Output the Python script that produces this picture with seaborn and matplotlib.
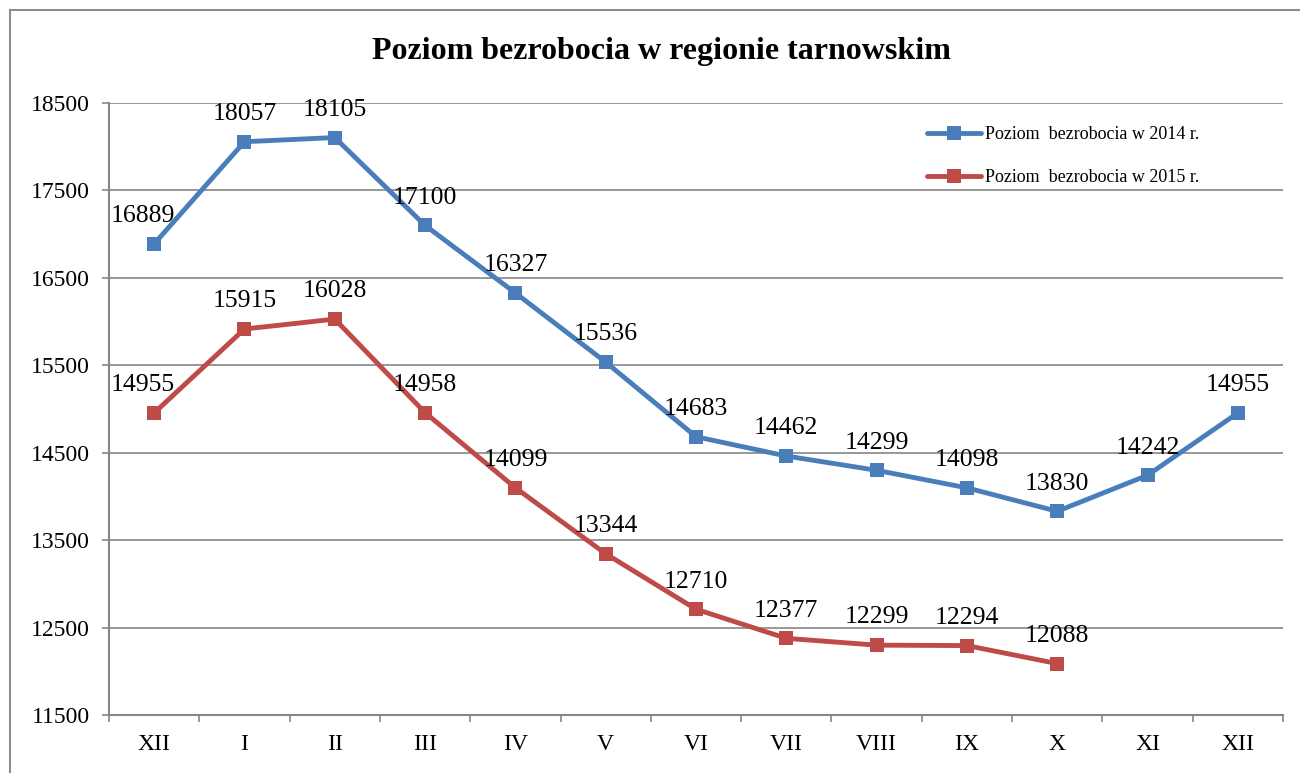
import matplotlib
matplotlib.use("Agg")
import matplotlib.pyplot as plt
import matplotlib.patches as mpatches
import seaborn as sns
import pandas as pd
import numpy as np

months = ["XII", "I", "II", "III", "IV", "V", "VI", "VII", "VIII", "IX", "X", "XI", "XII"]
vals_2014 = [16889, 18057, 18105, 17100, 16327, 15536, 14683, 14462, 14299, 14098, 13830, 14242, 14955]
vals_2015 = [14955, 15915, 16028, 14958, 14099, 13344, 12710, 12377, 12299, 12294, 12088]
series_names = ["Poziom  bezrobocia w 2014 r.", "Poziom  bezrobocia w 2015 r."]
title = "Poziom bezrobocia w regionie tarnowskim"
yticks = [11500, 12500, 13500, 14500, 15500, 16500, 17500, 18500]

colors = ["#4A7EBB", "#BE4B48"]

rows = []
for i, v in enumerate(vals_2014):
    rows.append({"pos": i, "val": v, "series": series_names[0]})
for i, v in enumerate(vals_2015):
    rows.append({"pos": i, "val": v, "series": series_names[1]})
df = pd.DataFrame(rows)

sns.set_theme(style="white")
plt.rcParams["font.family"] = ["Liberation Serif", "DejaVu Serif"]
plt.rcParams["text.color"] = "black"
plt.rcParams["xtick.labelcolor"] = "black"
plt.rcParams["ytick.labelcolor"] = "black"

fig = plt.figure(figsize=(13, 7.73), dpi=100)
ax = fig.add_axes([109/1300, 1 - 715/773, (1283-109)/1300, (715-103)/773])

sns.lineplot(data=df, x="pos", y="val", hue="series", palette=colors,
             marker="s", markersize=10, markeredgewidth=0, linewidth=3.5,
             ax=ax, legend=True)

# data labels
for series, vals in zip(series_names, [vals_2014, vals_2015]):
    for i, v in enumerate(vals):
        dx = -8 if i == 0 else 0
        ax.annotate(str(v), (i, v), xytext=(dx, 12), textcoords="offset points",
                    ha="center", va="bottom", fontsize=18.5, color="black")

ax.set_xlim(-0.5, len(months) - 0.5)
ax.set_ylim(11500, 18500)
ax.set_yticks(yticks)
ax.set_yticklabels([str(t) for t in yticks], fontsize=17)
ax.set_xticks(range(len(months)))
ax.set_xticklabels(months, fontsize=17)
ax.set_xticks(np.arange(-0.5, len(months), 1.0), minor=True)
ax.tick_params(axis="x", which="major", length=0, pad=14)
ax.tick_params(axis="x", which="minor", length=5, width=1.2, color="#868686", direction="out")
ax.tick_params(axis="y", which="major", length=5, width=1.2, color="#868686", direction="out", pad=9)
ax.xaxis.set_ticks_position("bottom")
ax.yaxis.set_ticks_position("left")
ax.set_xlabel("")
ax.set_ylabel("")
ax.grid(axis="y", color="#868686", linewidth=1.2)
ax.grid(axis="x", visible=False)
for s in ["top", "right"]:
    ax.spines[s].set_visible(False)
for s in ["left", "bottom"]:
    ax.spines[s].set_color("#868686")
    ax.spines[s].set_linewidth(1.5)

leg = ax.legend(loc="upper left", bbox_to_anchor=((920-109)/(1283-109), 1 - (119-103)/(715-103)),
                frameon=False, fontsize=13, labelspacing=1.45, handlelength=3.0,
                handletextpad=0.2, borderaxespad=0)
for t in leg.get_texts():
    t.set_color("black")

fig.text(661/1300, 1 - 52/773, title, ha="center", va="center", fontsize=23,
         fontweight="bold", color="black")

frame = mpatches.Rectangle((10/1300, -0.05), 1.2, 1 - 10/773 + 0.05, transform=fig.transFigure,
                           fill=False, edgecolor="#8c8c8c", linewidth=1.5, clip_on=False)
fig.patches.append(frame)

fig.savefig("out.png", dpi=100)
